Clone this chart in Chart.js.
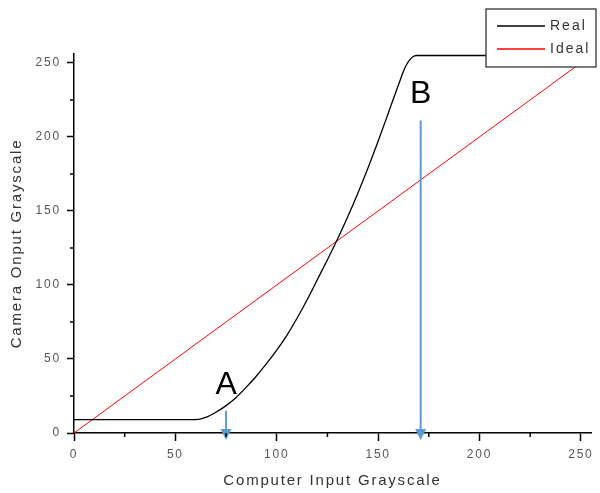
<!DOCTYPE html>
<html>
<head>
<meta charset="utf-8">
<script src="https://cdn.jsdelivr.net/npm/chart.js@4.4.0/dist/chart.umd.min.js"></script>
<style>
  html, body { margin: 0; padding: 0; background: #fff; }
  #wrap { width: 600px; height: 493px; }
</style>
</head>
<body>
<div id="wrap"><canvas id="gammaChart" width="600" height="493"></canvas></div>
<script>
// camera response readings (input grayscale -> camera grayscale)
const realX = [0, 60, 65, 70, 75, 80, 85, 90, 95, 100, 105, 110, 115, 120, 125, 130, 135, 140, 145, 150, 155, 160, 163, 165, 167, 169, 255];
const realY = [9, 9, 10.5, 14, 18.5, 24, 31, 38.5, 47, 56, 66, 77.5, 90, 103.5, 117, 131, 146, 162, 179, 197, 216, 235, 246, 251, 254, 255, 255];
const idealX = [0, 255];
const idealY = [0, 255];
const seriesNames = ['Real', 'Ideal'];
const seriesColors = ['#000000', '#ff0000'];
// marked points on the x axis
const markLabels = ['A', 'B'];
const markX = [75, 171];
const markFrom = [15, 211];
const markTextY = [32.5, 229];

const toPoints = (xs, ys) => xs.map((x, i) => ({ x, y: ys[i] }));

const minorTicks = {
    id: 'minorTicks',
    afterDraw(chart) {
        const ctx = chart.ctx;
        const { x, y } = chart.scales;
        ctx.save();
        ctx.strokeStyle = '#000';
        ctx.lineWidth = 1.5;
        ctx.beginPath();
        for (let v = 25; v < x.max; v += 50) {
            const px = x.getPixelForValue(v);
            ctx.moveTo(px, y.bottom);
            ctx.lineTo(px, y.bottom + 4);
        }
        for (let v = 25; v < y.max; v += 50) {
            const py = y.getPixelForValue(v);
            ctx.moveTo(x.left, py);
            ctx.lineTo(x.left - 4, py);
        }
        ctx.stroke();
        ctx.restore();
    }
};

const markers = {
    id: 'markers',
    afterDatasetsDraw(chart) {
        const ctx = chart.ctx;
        const { x, y } = chart.scales;
        ctx.save();
        markLabels.forEach((lab, i) => {
            const px = x.getPixelForValue(markX[i]);
            const top = y.getPixelForValue(markFrom[i]);
            const tip = y.bottom + 7;
            ctx.strokeStyle = '#5b9bd5';
            ctx.fillStyle = '#5b9bd5';
            ctx.lineWidth = 2;
            ctx.beginPath();
            ctx.moveTo(px, top);
            ctx.lineTo(px, tip - 8);
            ctx.stroke();
            ctx.beginPath();
            ctx.moveTo(px - 5.5, tip - 11);
            ctx.lineTo(px + 5.5, tip - 11);
            ctx.lineTo(px, tip);
            ctx.closePath();
            ctx.fill();

            ctx.letterSpacing = '0px';
            ctx.fillStyle = '#000';
            ctx.font = '32px "Liberation Sans", Arial, sans-serif';
            ctx.textAlign = 'center';
            ctx.textBaseline = 'middle';
            ctx.fillText(lab, px, y.getPixelForValue(markTextY[i]));
        });
        ctx.restore();
    }
};

const boxLegend = {
    id: 'boxLegend',
    afterDraw(chart) {
        const ctx = chart.ctx;
        ctx.save();
        ctx.fillStyle = '#fff';
        ctx.fillRect(486, 9, 110, 58);
        ctx.strokeStyle = '#333';
        ctx.lineWidth = 1.3;
        ctx.strokeRect(486, 9, 110, 58);
        ctx.font = '14px "Liberation Sans", Arial, sans-serif';
        ctx.letterSpacing = '2px';
        ctx.textAlign = 'left';
        ctx.textBaseline = 'middle';
        chart.data.datasets.forEach((ds, i) => {
            const ly = 26 + i * 23;
            ctx.strokeStyle = ds.borderColor;
            ctx.lineWidth = 1.5;
            ctx.beginPath();
            ctx.moveTo(497, ly);
            ctx.lineTo(545, ly);
            ctx.stroke();
            ctx.fillStyle = '#333';
            ctx.fillText(ds.label, 550, ly);
        });
        ctx.restore();
    }
};

const spacing = {
    id: 'spacing',
    beforeLayout(chart) { chart.ctx.letterSpacing = '1.8px'; },
    beforeDraw(chart) { chart.ctx.letterSpacing = '1.8px'; }
};

const tickFont = { family: '"Liberation Sans", Arial, sans-serif', size: 12 };
const titleFont = { family: '"Liberation Sans", Arial, sans-serif', size: 15 };

new Chart(document.getElementById('gammaChart'), {
    type: 'scatter',
    data: {
        datasets: [
            {
                label: seriesNames[0],
                data: toPoints(realX, realY),
                showLine: true,
                borderColor: seriesColors[0],
                borderWidth: 1.3,
                pointRadius: 0,
                cubicInterpolationMode: 'monotone',
                clip: false
            },
            {
                label: seriesNames[1],
                data: toPoints(idealX, idealY),
                showLine: true,
                borderColor: seriesColors[1],
                borderWidth: 1,
                pointRadius: 0,
                clip: false
            }
        ]
    },
    options: {
        responsive: false,
        animation: false,
        layout: { padding: { top: 54, right: 9, left: 0, bottom: 0 } },
        plugins: { legend: { display: false }, tooltip: { enabled: false } },
        scales: {
            x: {
                type: 'linear',
                min: 0,
                max: 255,
                afterFit: s => { s.height = 60; },
                border: { display: true, color: '#000', width: 1.5 },
                grid: { drawOnChartArea: false, drawTicks: true, tickLength: 8, tickColor: '#000', tickWidth: 1.5 },
                ticks: { stepSize: 50, includeBounds: false, color: '#555', font: tickFont, padding: 6, maxRotation: 0 },
                title: { display: true, text: 'Computer Input Grayscale', color: '#333', font: titleFont, padding: { top: 4, bottom: 3 } }
            },
            y: {
                type: 'linear',
                min: 0,
                max: 256,
                afterFit: s => { s.width = 74; },
                border: { display: true, color: '#000', width: 1.5 },
                grid: { drawOnChartArea: false, drawTicks: true, tickLength: 7, tickColor: '#000', tickWidth: 1.5 },
                ticks: { stepSize: 50, includeBounds: false, color: '#555', font: tickFont, padding: 6 },
                title: { display: true, text: 'Camera Onput Grayscale', color: '#333', font: titleFont, padding: { top: 8, bottom: 4 } }
            }
        }
    },
    plugins: [spacing, minorTicks, markers, boxLegend]
});
</script>
</body>
</html>
